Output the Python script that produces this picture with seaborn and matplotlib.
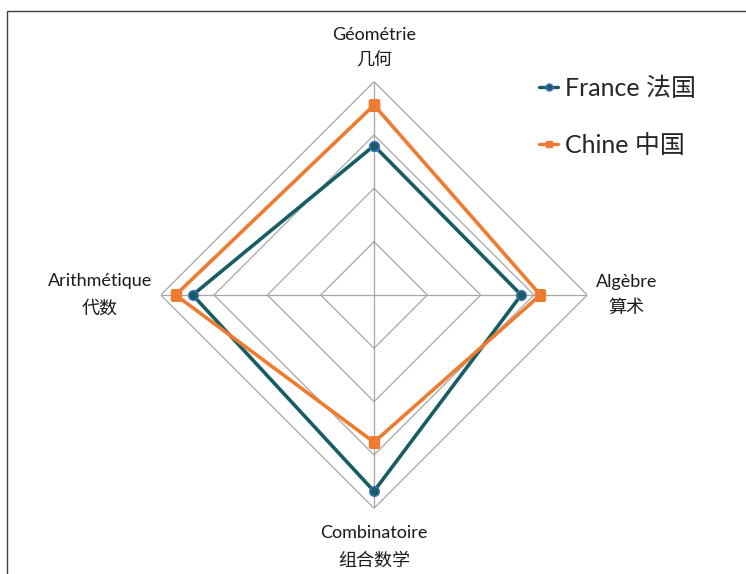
import numpy as np
import pandas as pd
import matplotlib
matplotlib.use("Agg")
import matplotlib.pyplot as plt
from matplotlib.patches import Rectangle
from matplotlib.lines import Line2D
import seaborn as sns

# Axis names (French / Chinese)
axes_fr = ["Géométrie", "Algèbre", "Combinatoire", "Arithmétique"]
axes_zh = ["几何", "算术", "组合数学", "代数"]

# Scores on each axis
france = [70, 69, 92, 85]
chine = [89, 78, 69, 93]

series_names = ["France 法国", "Chine 中国"]
grid_levels = [25, 50, 75, 100]

sns.set_theme(style="white")
plt.rcParams["font.family"] = ["Lato", "Noto Sans CJK SC", "DejaVu Sans"]

n = len(axes_fr)
angles = np.arange(n) * 2 * np.pi / n
closed = np.append(angles, angles[0])

fig = plt.figure(figsize=(7.46, 5.74), dpi=100)
ax = fig.add_axes([0.2154, 0.1145, 0.5719, 0.7432], projection="polar")
ax.set_theta_offset(np.pi / 2)
ax.set_theta_direction(-1)

# polygon grid and spokes
for lv in grid_levels:
    ax.plot(closed, [lv] * (n + 1), color="#a6a6a6", lw=0.9, zorder=1)
for t in angles:
    ax.plot([t, t], [0, 100], color="#a6a6a6", lw=0.9, zorder=1)

c_fr = "#175d63"
c_cn = "#ee7b30"
styles = [
    dict(color=c_fr, marker="o", markeredgecolor="#4472c4", markeredgewidth=1.0),
    dict(color=c_cn, marker="s", markeredgecolor=c_cn, markeredgewidth=1.0),
]
for name, vals, st in zip(series_names, [france, chine], styles):
    d = pd.DataFrame({"theta": closed, "score": vals + [vals[0]]})
    sns.lineplot(data=d, x="theta", y="score", sort=False, estimator=None,
                 ax=ax, lw=2.6, markersize=7, zorder=3, **st)

ax.set_ylim(0, 100)
ax.grid(False)
ax.spines["polar"].set_visible(False)
ax.set_xticks([])
ax.set_yticks([])
ax.patch.set_alpha(0)
ax.set_xlabel("")
ax.set_ylabel("")

# axis labels
lbl = dict(fontsize=13, color="#1a1a1a", linespacing=1.75, multialignment="center")
ax.text(angles[0], 106, axes_fr[0] + "\n" + axes_zh[0], ha="center", va="bottom", **lbl)
ax.text(angles[1], 104, axes_fr[1] + "\n" + axes_zh[1], ha="left", va="center", **lbl)
ax.text(angles[2], 108, axes_fr[2] + "\n" + axes_zh[2], ha="center", va="top", **lbl)
ax.text(angles[3], 104, axes_fr[3] + "\n" + axes_zh[3], ha="right", va="center", **lbl)

handles = [Line2D([], [], lw=2.4, markersize=5, **st) for st in styles]
fig.legend(handles, series_names, loc="upper left", bbox_to_anchor=(0.706, 0.888),
           frameon=False, fontsize=18, handlelength=0.75, handletextpad=0.3,
           labelspacing=1.35, borderpad=0)

# chart frame
fig.add_artist(Rectangle((7 / 746, -0.1), 1.2, (574 - 11) / 574 + 0.1, fill=False,
                         transform=fig.transFigure, lw=1.0, ec="#404040"))

fig.savefig("out.png", dpi=100)
